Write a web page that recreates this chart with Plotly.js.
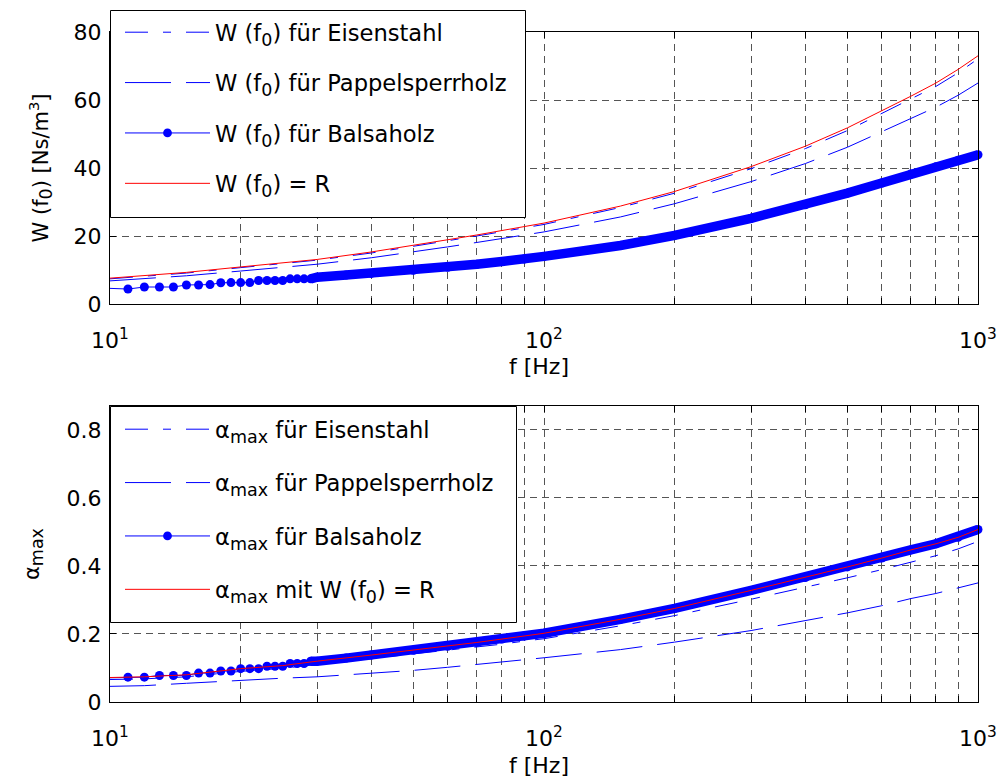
<!DOCTYPE html>
<html>
<head>
<meta charset="utf-8">
<script src="https://cdn.plot.ly/plotly-3.0.1.min.js"></script>
<style>html,body{margin:0;padding:0;background:#fff;}</style>
</head>
<body>
<div id="chart" style="width:999px;height:781px;"></div>
<script>
// Frequencies (Hz) of the sampled curves
const freq = [10, 12, 15, 20, 25, 30, 40, 50, 60, 70, 80, 90, 100, 150, 200, 300, 400, 500, 600, 700, 800, 900, 1000];

// Frequencies of the Balsaholz samples (every Hz at the low end)
const freqBalsa = [10, 11, 12, 13, 14, 15, 16, 17, 18, 19, 20, 21, 22, 23, 24, 25, 26, 27, 28, 29,
                   30, 35, 40, 50, 60, 70, 80, 90, 100, 150, 200, 300, 400, 500, 600, 700, 800, 900, 1000];

// W(f0) in Ns/m^3
const wR      = [7.6, 8.3, 9.3, 10.9, 12.0, 13.1, 15.3, 17.2, 18.9, 20.3, 21.6, 22.8, 23.8, 28.8, 33.1, 40.4, 46.4, 51.8, 56.8, 61.1, 65.0, 69.0, 73.0];
const wEisen  = [7.4, 8.1, 9.1, 10.7, 11.8, 12.9, 15.0, 16.9, 18.6, 20.0, 21.3, 22.5, 23.4, 28.4, 32.6, 39.8, 45.7, 51.0, 56.0, 60.2, 64.0, 68.0, 72.1];
const wPappel = [6.8, 7.4, 8.3, 9.7, 10.7, 11.7, 13.6, 15.3, 16.8, 18.1, 19.2, 20.3, 21.2, 25.6, 29.5, 36.0, 41.3, 46.1, 50.6, 54.4, 57.9, 61.4, 65.0];
const wBalsa  = [4.6, 4.4, 5.0, 5.0, 5.0, 5.6, 5.6, 5.7, 6.25, 6.3, 6.3, 6.3, 6.9, 6.9, 6.9, 6.9, 7.4, 7.4, 7.4, 7.4,
                 7.9, 8.5, 9.0, 9.9, 10.8, 11.7, 12.5, 13.2, 14.0, 17.2, 20.2, 25.2, 29.2, 32.6, 35.6, 38.2, 40.4, 42.3, 43.9];

// alpha_max
const aR      = [0.072, 0.074, 0.080, 0.098, 0.107, 0.120, 0.138, 0.152, 0.164, 0.175, 0.185, 0.194, 0.202, 0.243, 0.275, 0.328, 0.366, 0.397, 0.423, 0.447, 0.465, 0.484, 0.507];
const aEisen  = [0.066, 0.068, 0.074, 0.090, 0.099, 0.110, 0.127, 0.140, 0.151, 0.161, 0.170, 0.179, 0.186, 0.224, 0.254, 0.302, 0.337, 0.365, 0.389, 0.412, 0.430, 0.450, 0.472];
const aPappel = [0.046, 0.048, 0.055, 0.064, 0.070, 0.074, 0.084, 0.093, 0.102, 0.110, 0.118, 0.125, 0.130, 0.154, 0.176, 0.210, 0.239, 0.262, 0.283, 0.304, 0.319, 0.335, 0.350];
const aBalsa  = [0.071, 0.073, 0.073, 0.078, 0.078, 0.078, 0.085, 0.085, 0.091, 0.091, 0.098, 0.098, 0.098, 0.105, 0.105, 0.105, 0.113, 0.113, 0.113, 0.120,
                 0.120, 0.129, 0.138, 0.152, 0.164, 0.175, 0.185, 0.194, 0.202, 0.243, 0.275, 0.328, 0.366, 0.397, 0.423, 0.447, 0.465, 0.484, 0.507];

// Log axis ticks (decades labelled, intermediate ticks carry the minor grid)
const xTickVals = [10, 20, 30, 40, 50, 60, 70, 80, 90, 100, 200, 300, 400, 500, 600, 700, 800, 900, 1000];
const xTickText = ['10<sup>1</sup>', '', '', '', '', '', '', '', '', '10<sup>2</sup>', '', '', '', '', '', '', '', '', '10<sup>3</sup>'];
const wTicks = [0, 20, 40, 60, 80];
const aTicks = [0, 0.2, 0.4, 0.6, 0.8];

// subscripts are drawn a little larger than the default 70 %
const sub = s => '<sub><span style="font-size:17.5px">' + s + '</span></sub>';
const F0 = 'f' + sub('0');
const AMAX = 'α' + sub('max');

const topNames = ['W (' + F0 + ') für Eisenstahl', 'W (' + F0 + ') für Pappelsperrholz',
                  'W (' + F0 + ') für Balsaholz', 'W (' + F0 + ') = R'];
const botNames = [AMAX + ' für Eisenstahl', AMAX + ' für Pappelsperrholz',
                  AMAX + ' für Balsaholz', AMAX + ' mit W (' + F0 + ') = R'];
const xLabel = 'f [Hz]';
const wLabel = 'W (' + F0 + ') [Ns/m<sup>3</sup>]';

const BLUE = '#0000ff';
const RED = '#ff0000';
const DASH_DOT = '23px,15px,8px,15px';
const DASHED = '46px,15px';
const bandStart = freqBalsa.indexOf(29);
const dotSizes = freqBalsa.map(f => (f > 10 ? 9 : 0));

function panel(xa, ya, leg, names, yE, yP, yB, yR, tag) {
  return [
    {x: freq, y: yE, xaxis: xa, yaxis: ya, legend: leg, legendgroup: tag + 'e', name: names[0],
     mode: 'lines', line: {color: BLUE, width: 1, dash: DASH_DOT}},
    {x: freq, y: yP, xaxis: xa, yaxis: ya, legend: leg, legendgroup: tag + 'p', name: names[1],
     mode: 'lines', line: {color: BLUE, width: 1, dash: DASHED}},
    {x: freqBalsa, y: yB, xaxis: xa, yaxis: ya, legend: leg, legendgroup: tag + 'b', name: names[2],
     mode: 'lines+markers', cliponaxis: false,
     line: {color: BLUE, width: 1},
     marker: {color: BLUE, size: dotSizes, opacity: 1, line: {width: 0}}},
    // dense run of overlapping dots above ~30 Hz
    {x: freqBalsa.slice(bandStart), y: yB.slice(bandStart), xaxis: xa, yaxis: ya, legend: leg,
     legendgroup: tag + 'b', showlegend: false, hoverinfo: 'skip',
     mode: 'lines', line: {color: BLUE, width: 9.5}},
    {x: freq, y: yR, xaxis: xa, yaxis: ya, legend: leg, legendgroup: tag + 'r', name: names[3],
     mode: 'lines', line: {color: RED, width: 1}}
  ];
}

const data = [].concat(
  panel('x', 'y', 'legend', topNames, wEisen, wPappel, wBalsa, wR, 't'),
  panel('x2', 'y2', 'legend2', botNames, aEisen, aPappel, aBalsa, aR, 'b')
);

const FONT = {family: 'DejaVu Sans, Arial, sans-serif', size: 22, color: '#000'};
const LEG_FONT = Object.assign({}, FONT, {size: 22.6});
const W = 999, H = 781;
const px = v => v / W;
const py = v => 1 - v / H;
const xDom = [px(110), px(978)];

const axisBase = {
  showline: true, linecolor: '#000', linewidth: 1, mirror: 'allticks',
  ticks: 'inside', ticklen: 6, tickcolor: '#000', tickwidth: 1,
  showgrid: true, gridcolor: '#555', griddash: '7px,5px', gridwidth: 1,
  zeroline: false, tickfont: FONT, fixedrange: true
};

const xBase = Object.assign({}, axisBase, {
  type: 'log', range: [1, 3], domain: xDom, tickmode: 'array',
  tickvals: xTickVals, ticktext: xTickText, ticklabelstandoff: 17
});

const legendBase = {
  x: px(120), xanchor: 'left', yanchor: 'top',
  bgcolor: 'rgba(255,255,255,0)', borderwidth: 0,
  font: LEG_FONT, itemwidth: 85, traceorder: 'grouped'
};

// white legend frames
const frame = (x0, y0, x1, y1) => ({
  type: 'rect', xref: 'paper', yref: 'paper', layer: 'above',
  x0: px(x0 + 0.5), x1: px(x1 + 0.5), y0: py(y1 + 0.5), y1: py(y0 + 0.5),
  line: {color: '#000', width: 1}, fillcolor: '#fff'
});

const xTitle = yc => ({
  text: xLabel, xref: 'paper', yref: 'paper', x: px(539), y: py(yc),
  xanchor: 'center', yanchor: 'middle', showarrow: false, font: FONT
});

const layout = {
  width: W, height: H, margin: {l: 0, r: 0, t: 0, b: 0},
  paper_bgcolor: '#fff', plot_bgcolor: '#fff', font: FONT,
  showlegend: true, hovermode: false,
  xaxis: Object.assign({}, xBase, {anchor: 'y'}),
  yaxis: Object.assign({}, axisBase, {
    anchor: 'x', domain: [py(304), py(32)], range: [0, 80], tickmode: 'array', tickvals: wTicks,
    ticklabelstandoff: 3,
    title: {text: wLabel, font: Object.assign({}, FONT, {size: 21}), standoff: 19}
  }),
  xaxis2: Object.assign({}, xBase, {anchor: 'y2'}),
  yaxis2: Object.assign({}, axisBase, {
    anchor: 'x2', domain: [py(702), py(406)], range: [0, 0.87], tickmode: 'array', tickvals: aTicks,
    ticklabelstandoff: 3,
    title: {text: AMAX, font: Object.assign({}, FONT, {size: 21}), standoff: 21}
  }),
  annotations: [xTitle(366), xTitle(765)],
  shapes: [frame(110, 10, 525, 217), frame(110, 406, 516, 622)],
  legend: Object.assign({}, legendBase, {y: py(11), tracegroupgap: 18}),
  legend2: Object.assign({}, legendBase, {y: py(408), tracegroupgap: 21})
};

Plotly.newPlot('chart', data, layout, {staticPlot: true, displayModeBar: false});
</script>
</body>
</html>
